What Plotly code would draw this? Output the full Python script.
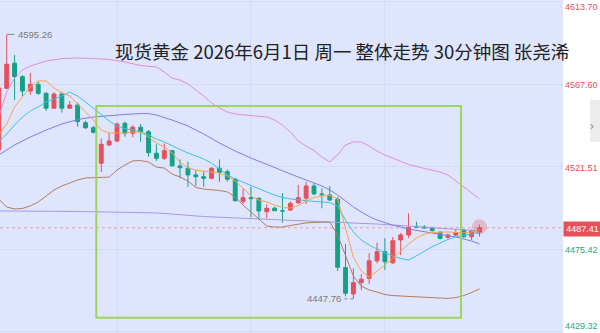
import plotly.graph_objects as go

# ---------------- data (30-minute candles, spot gold) ----------------
open_ = [4530.8, 4565.2, 4579.2, 4571.7, 4563.7, 4567.4, 4562.4, 4554.1, 4562.0, 4554.1,
         4555.9, 4546.0, 4543.2, 4523.4, 4533.6, 4535.8, 4545.7, 4540.1, 4543.5, 4541.0,
         4529.0, 4526.2, 4530.4, 4521.9, 4520.6, 4516.9, 4515.9, 4515.0, 4520.6, 4518.7,
         4514.6, 4502.0, 4504.2, 4503.9, 4496.4, 4498.3, 4496.9, 4497.3, 4501.4, 4503.9,
         4510.7, 4506.3, 4505.7, 4503.3, 4465.2, 4450.5, 4456.8, 4459.2, 4469.0, 4474.1,
         4467.9, 4480.6, 4483.4, 4488.2, 4487.8, 4487.1, 4484.9, 4482.1, 4483.4, 4486.2,
         4482.4, 4485.0]
high = [4567.1, 4595.26, 4583.8, 4572.6, 4573.9, 4568.9, 4563.1, 4563.0, 4563.3, 4558.1,
        4557.2, 4547.1, 4544.2, 4537.3, 4540.1, 4546.1, 4546.6, 4544.7, 4545.3, 4542.0,
        4534.0, 4534.5, 4530.8, 4525.6, 4524.3, 4519.6, 4518.7, 4521.2, 4525.6, 4520.0,
        4515.2, 4509.4, 4510.3, 4504.3, 4500.5, 4499.2, 4506.7, 4502.0, 4511.3, 4513.1,
        4512.2, 4509.4, 4510.7, 4504.6, 4478.4, 4464.8, 4461.6, 4473.3, 4479.1, 4481.6,
        4482.3, 4484.5, 4495.5, 4490.8, 4488.9, 4488.0, 4485.6, 4484.2, 4486.7, 4486.7,
        4486.5, 4489.2]
low = [4528.0, 4564.8, 4558.7, 4560.9, 4561.5, 4561.5, 4552.6, 4553.7, 4551.6, 4553.7,
       4543.8, 4542.5, 4540.0, 4518.5, 4533.0, 4535.3, 4538.2, 4537.9, 4535.4, 4527.1,
       4524.7, 4525.2, 4521.5, 4515.0, 4510.3, 4510.7, 4510.3, 4514.5, 4513.1, 4513.1,
       4502.0, 4500.7, 4493.3, 4491.8, 4492.7, 4496.8, 4490.3, 4496.9, 4500.7, 4500.7,
       4505.7, 4498.3, 4502.3, 4463.3, 4449.2, 4447.76, 4452.7, 4456.1, 4467.6, 4463.9,
       4467.2, 4472.2, 4481.6, 4487.3, 4487.0, 4485.3, 4480.9, 4481.4, 4482.8, 4482.0,
       4480.6, 4482.6]
close = [4565.4, 4578.6, 4571.7, 4563.7, 4567.4, 4562.4, 4554.1, 4562.0, 4554.1, 4555.9,
         4546.6, 4543.2, 4540.7, 4534.0, 4535.8, 4545.3, 4540.1, 4543.5, 4541.0, 4529.3,
         4526.2, 4530.4, 4522.0, 4520.9, 4516.9, 4515.9, 4515.0, 4520.6, 4518.4, 4514.5,
         4502.5, 4504.2, 4503.7, 4496.8, 4498.3, 4496.9, 4496.8, 4501.1, 4504.2, 4510.7,
         4506.3, 4505.9, 4502.9, 4465.4, 4450.9, 4456.8, 4458.7, 4469.0, 4474.1, 4468.5,
         4480.2, 4483.4, 4487.7, 4487.8, 4487.4, 4485.8, 4481.5, 4483.4, 4484.7, 4482.4,
         4485.8, 4487.41]
candle_idx = list(range(len(open_)))

# Bollinger upper (pink)
boll_up_x = [0, 1, 2, 3, 4, 6, 8, 10, 12, 14, 16, 18, 20, 21, 22, 23, 24, 25, 26, 27, 28, 29,
             30, 32, 34, 35, 36, 37, 38, 39, 40, 41, 42, 43, 44, 45, 46, 47, 48, 49, 50, 52,
             54, 55, 56, 57, 58, 59, 60, 61]
boll_up = [4549.2, 4563.1, 4570.9, 4575.4, 4577.6, 4580.4, 4581.8, 4582.1, 4581.8, 4581.3,
           4579.9, 4577.9, 4577.1, 4574.3, 4570.9, 4569.8, 4567.6, 4564.3, 4560.9, 4557.0,
           4554.2, 4552.0, 4550.9, 4550.0, 4549.2, 4547.5, 4544.7, 4540.8, 4535.8, 4533.0,
           4530.5, 4526.9, 4524.1, 4528.0, 4533.6, 4535.3, 4535.3, 4533.0, 4530.2, 4528.0,
           4526.3, 4522.7, 4520.5, 4519.6, 4518.5, 4516.9, 4513.5, 4510.1, 4506.8, 4503.5]

# Bollinger lower (brown)
boll_dn_x = list(range(0, 51)) + [52, 54, 56, 57, 58, 59, 60, 61]
boll_dn = [4503.4, 4499.0, 4497.9, 4498.2, 4499.6, 4501.8, 4505.1, 4508.5, 4510.7, 4512.4,
           4514.1, 4515.2, 4515.2, 4515.5, 4515.7, 4519.6, 4522.4, 4524.7, 4524.9, 4524.1,
           4521.3, 4520.7, 4517.4, 4515.7, 4513.5, 4509.9, 4509.0, 4508.8, 4508.2, 4507.4,
           4504.6, 4500.1, 4496.2, 4491.8, 4488.4, 4487.8, 4487.8, 4488.7, 4489.5, 4490.1,
           4490.4, 4490.6, 4490.6, 4483.4, 4471.7, 4460.5, 4454.9, 4452.7, 4451.6, 4450.2,
           4449.6, 4449.1, 4448.5, 4448.0, 4448.0, 4448.5, 4449.6, 4451.3, 4453.3]

# Middle band / MA (blue)
ma_blue_x = [0, 2, 4, 6, 8, 10, 12, 14, 16, 18, 19, 20, 22, 24, 26, 28, 30, 32, 34, 36, 38,
             40, 41, 42, 43, 44, 45, 46, 47, 48, 50, 52, 54, 56, 58, 60, 61]
ma_blue = [4528.0, 4533.6, 4538.0, 4541.9, 4545.3, 4547.8, 4549.2, 4550.0, 4550.6, 4551.1,
           4551.1, 4550.3, 4547.5, 4544.2, 4539.7, 4534.7, 4530.2, 4526.3, 4522.7, 4519.1,
           4515.7, 4512.4, 4510.7, 4508.5, 4505.7, 4502.4, 4499.0, 4496.2, 4493.7, 4491.7,
           4488.9, 4486.7, 4485.3, 4483.9, 4482.3, 4480.0, 4478.4]

# MA (cyan)
ma_cyan_x = candle_idx
ma_cyan = [4535.3, 4539.7, 4544.7, 4549.2, 4552.5, 4554.8, 4557.6, 4559.2, 4560.9, 4563.1,
           4560.9, 4557.6, 4554.2, 4550.3, 4547.0, 4544.2, 4542.8, 4541.9, 4540.8, 4539.2,
           4536.9, 4535.3, 4533.0, 4531.1, 4529.1, 4527.5, 4525.8, 4523.5, 4520.2, 4516.9,
           4514.6, 4512.7, 4511.0, 4509.0, 4507.4, 4505.7, 4504.3, 4503.5, 4502.9, 4502.4,
           4502.1, 4501.8, 4501.5, 4499.5, 4491.8, 4485.1, 4480.6, 4477.8, 4475.6, 4473.4,
           4471.7, 4470.3, 4469.4, 4471.7, 4474.2, 4476.9, 4478.9, 4480.9, 4482.3, 4483.1,
           4483.9, 4484.8]

# MA (orange)
ma_orange_x = candle_idx
ma_orange = [4539.2, 4545.3, 4554.8, 4560.3, 4565.9, 4569.3, 4569.3, 4565.4, 4562.6, 4560.9,
             4556.5, 4552.0, 4547.5, 4541.9, 4540.3, 4540.3, 4540.3, 4540.8, 4540.8, 4538.0,
             4534.7, 4532.5, 4529.1, 4524.1, 4520.8, 4519.6, 4519.1, 4518.8, 4517.9, 4516.3,
             4513.5, 4509.6, 4505.1, 4502.9, 4501.8, 4500.1, 4498.7, 4498.4, 4499.8, 4502.4,
             4504.3, 4505.1, 4505.4, 4503.5, 4487.3, 4471.1, 4463.3, 4459.9, 4463.3, 4466.6,
             4470.5, 4474.5, 4478.3, 4481.7, 4483.9, 4484.8, 4485.1, 4485.1, 4484.8, 4484.5,
             4485.1, 4486.2]

# Long MA (lavender)
ma_long_x = [0, 10, 20, 26, 30, 36, 42, 48, 54, 61]
ma_long = [4496.8, 4496.5, 4495.7, 4493.7, 4492.9, 4491.7, 4490.9, 4489.5, 4487.8, 4485.6]

axis_ticks = [4613.70, 4567.60, 4521.51, 4475.42, 4429.32]
axis_labels = ["4613.70", "4567.60", "4521.51", "4475.42", "4429.32"]
last_price = 4487.41
high_mark = 4595.26
low_mark = 4447.76
title_text = "现货黄金 2026年6月1日 周一 整体走势 30分钟图 张尧浠"

# ---------------- styling ----------------
RED = "#e5505a"
GREEN = "#15a184"
BG = "#dee5fd"
GRID = "#d3dbf7"
BOX_GREEN = "#9ed45c"
NUM_FONT = "Liberation Sans, Arial, sans-serif"
CJK_FONT = "'Noto Sans CJK SC', 'Noto Sans', sans-serif"

fig = go.Figure()

line_specs = [
    (ma_long_x, ma_long, "#a898ea"),
    (boll_up_x, boll_up, "#e38be0"),
    (boll_dn_x, boll_dn, "#b47c5e"),
    (ma_blue_x, ma_blue, "#7a80ee"),
    (ma_cyan_x, ma_cyan, "#3cc4e4"),
    (ma_orange_x, ma_orange, "#ffa24a"),
]
for xs, ys, col in line_specs:
    fig.add_trace(go.Scatter(x=xs, y=ys, mode="lines",
                             line=dict(color=col, width=1), hoverinfo="skip"))

fig.add_trace(go.Candlestick(
    x=candle_idx, open=open_, high=high, low=low, close=close,
    increasing=dict(line=dict(color=RED, width=1), fillcolor=RED),
    decreasing=dict(line=dict(color=GREEN, width=1), fillcolor=GREEN),
    whiskerwidth=0,
))

# glow on the latest candle
fig.add_trace(go.Scatter(x=[candle_idx[-1]], y=[last_price + 0.6], mode="markers",
                         marker=dict(size=15, color="rgba(229,80,90,0.28)", line=dict(width=0)),
                         hoverinfo="skip"))

# current price dotted line
fig.add_shape(type="line", xref="paper", x0=0, x1=1, yref="y", y0=last_price, y1=last_price,
              line=dict(color="#e3a2ae", width=1, dash="dot"), layer="below")

# green box drawing
fig.add_shape(type="rect", xref="x", yref="y", x0=12.37, x1=58.66, y0=4437.3, y1=4555.3,
              line=dict(color=BOX_GREEN, width=2), fillcolor="rgba(0,0,0,0)")

# high / low markers
fig.add_shape(type="line", xref="x", yref="y", x0=1.05, x1=1.95, y0=high_mark, y1=high_mark,
              line=dict(color="#8a8a8a", width=1))
fig.add_annotation(x=1, y=high_mark, xref="x", yref="y", text="4595.26", showarrow=False,
                   xanchor="left", xshift=9, font=dict(size=9.5, color="#7a7a7a", family=NUM_FONT))
fig.add_shape(type="line", xref="x", yref="y", x0=43.85, x1=44.95, y0=low_mark, y1=low_mark,
              line=dict(color="#8a8a8a", width=1, dash="dot"))
fig.add_annotation(x=45, y=low_mark, xref="x", yref="y", text="4447.76", showarrow=False,
                   xanchor="right", xshift=-10, font=dict(size=9.5, color="#7a7a7a", family=NUM_FONT))

# axis labels on the right
label_colors = [RED, RED, RED, "#1fa588", "#1fa588"]
label_shift = [-6, -1, -1, -1, 6]
for v, t, c, s in zip(axis_ticks, axis_labels, label_colors, label_shift):
    fig.add_annotation(x=1, y=v, xref="paper", yref="y", text=t, showarrow=False,
                       xanchor="left", xshift=0, yshift=s,
                       font=dict(size=9, color=c, family=NUM_FONT))

# current price box
fig.add_annotation(x=1, y=last_price, xref="paper", yref="y", text="4487.41", showarrow=False,
                   xanchor="left", yshift=-1, bgcolor=RED, width=35, height=12,
                   font=dict(size=9, color="white", family=NUM_FONT))

# collapse tab
fig.add_shape(type="rect", xref="paper", yref="paper", x0=1.048, x1=1.07, y0=0.574, y1=0.70,
              line=dict(width=0), fillcolor="#ececec")
fig.add_annotation(x=1.058, y=0.625, xref="paper", yref="paper", text="›", showarrow=False,
                   font=dict(size=13, color="#8a8a8a"))

# title
fig.add_annotation(x=0.6083, y=0.848, xref="paper", yref="paper", text=title_text,
                   showarrow=False, xanchor="center", yanchor="middle",
                   font=dict(size=18.5, color="#222222", family=CJK_FONT))

fig.update_layout(
    width=600, height=333,
    margin=dict(l=0, r=37, t=0, b=0),
    paper_bgcolor="white", plot_bgcolor=BG,
    showlegend=False,
    xaxis=dict(range=[0.15, 71.6], tickvals=[15, 32, 49], showticklabels=False,
               showgrid=True, gridcolor=GRID, zeroline=False, showline=False,
               rangeslider=dict(visible=False), fixedrange=True),
    yaxis=dict(range=[4428.73, 4614.45], tickvals=axis_ticks, showticklabels=False,
               showgrid=True, gridcolor=GRID, zeroline=False, showline=False, side="right",
               fixedrange=True),
)

fig.write_html("out.html", config={"displayModeBar": False})
